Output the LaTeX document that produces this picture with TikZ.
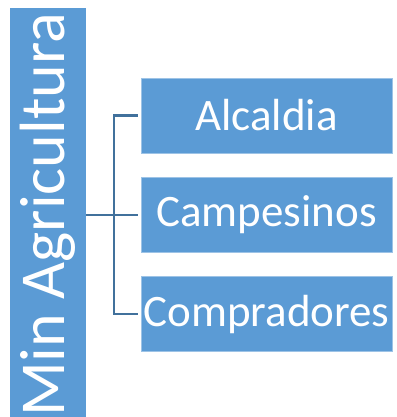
\documentclass[tikz,border=0pt]{standalone}
\usepackage{fontspec}
\setmainfont{Carlito}
\definecolor{boxblue}{HTML}{5B9BD5}
\definecolor{linkblue}{HTML}{41719C}
\tikzset{
  leafbox/.style={rectangle, fill=boxblue, draw=boxblue!60!white, line width=0.6pt,
    minimum width=251pt, minimum height=75pt, text=white, font=\fontsize{45}{45}\selectfont, inner sep=0pt},
  link/.style={draw=linkblue, line width=2.4pt}
}
\begin{document}
\begin{tikzpicture}[x=1pt, y=-1pt]
    \useasboundingbox (0,0) rectangle (396,417);
    \fill[boxblue] (10,8) rectangle (86,420);
    \node[text=white, rotate=90, font=\fontsize{64}{64}\selectfont, inner sep=0pt] (root) at (48,215) {Min Agricultura};
    \coordinate (rootout) at (86,215);
    \node[leafbox] (v1) at (266.5,115.5) {Alcaldia};
    \node[leafbox] (v2) at (266.5,215) {Campesinos};
    \node[leafbox] (v3) at (266.5,314) {Compradores};
    \coordinate (trunk) at (114,215);
    \draw[link] (rootout) -- (trunk);
    \draw[link] (v1.west) ++(-3,0) -| (trunk);
    \draw[link] (v3.west) ++(-3,0) -| (trunk);
    \draw[link] (trunk) -- ([xshift=-3pt]v2.west);
\end{tikzpicture}
\end{document}
